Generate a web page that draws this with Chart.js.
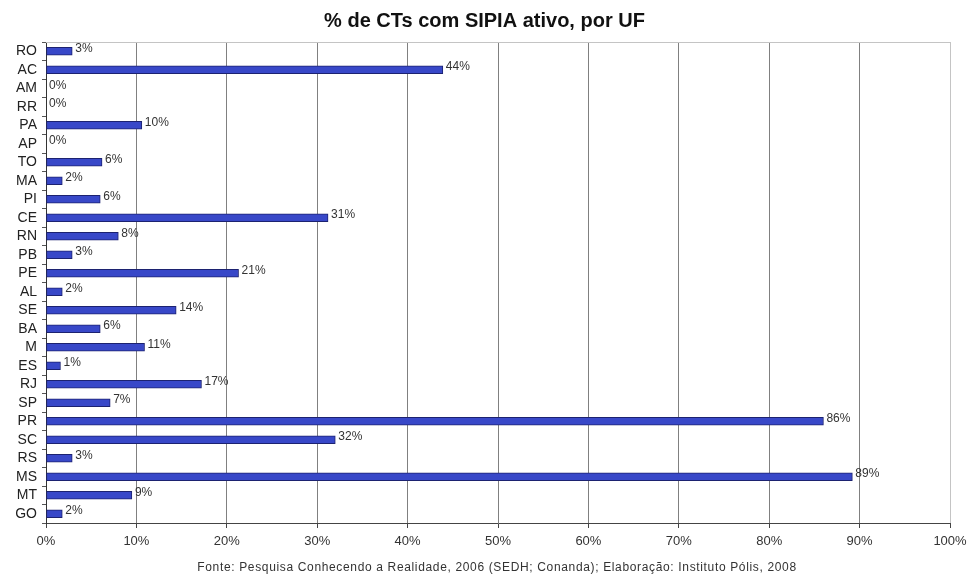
<!DOCTYPE html>
<html>
<head>
<meta charset="utf-8">
<script src="https://cdn.jsdelivr.net/npm/chart.js@4.4.0/dist/chart.umd.min.js"></script>
<style>
  html, body { margin: 0; padding: 0; background: #fff; }
  #wrap { width: 969px; height: 577px; }
</style>
</head>
<body>
<div id="wrap"><canvas id="chart"></canvas></div>
<script>
const states = ["RO", "AC", "AM", "RR", "PA", "AP", "TO", "MA", "PI", "CE", "RN", "PB", "PE",
  "AL", "SE", "BA", "M", "ES", "RJ", "SP", "PR", "SC", "RS", "MS", "MT", "GO"];
// bar lengths as drawn
const activePct = [2.9, 43.9, 0, 0, 10.6, 0, 6.2, 1.8, 6.0, 31.2, 8.0, 2.9, 21.3,
  1.8, 14.4, 6.0, 10.9, 1.6, 17.2, 7.1, 86.0, 32.0, 2.9, 89.2, 9.5, 1.8];
// labels printed next to the bars
const pctLabels = ["3%", "44%", "0%", "0%", "10%", "0%", "6%", "2%", "6%", "31%", "8%", "3%", "21%",
  "2%", "14%", "6%", "11%", "1%", "17%", "7%", "86%", "32%", "3%", "89%", "9%", "2%"];
const xTicks = [0, 10, 20, 30, 40, 50, 60, 70, 80, 90, 100];
const sourceNote = "Fonte: Pesquisa Conhecendo a Realidade, 2006 (SEDH; Conanda); Elaboração: Instituto Pólis, 2008";

const FONT = "'Liberation Sans', Arial, sans-serif";

// value labels, light top border, source note
const extras = {
  id: "extras",
  afterDatasetsDraw(chart) {
    const ctx = chart.ctx;
    const area = chart.chartArea;
    ctx.save();
    ctx.strokeStyle = "#c4c4c4";
    ctx.lineWidth = 1;
    ctx.beginPath();
    ctx.moveTo(area.left, area.top + 0.5);
    ctx.lineTo(area.right, area.top + 0.5);
    ctx.stroke();

    ctx.font = "12px " + FONT;
    ctx.fillStyle = "#333";
    ctx.textBaseline = "middle";
    ctx.textAlign = "left";
    chart.getDatasetMeta(0).data.forEach((bar, i) => {
      ctx.fillText(pctLabels[i], bar.x + 3, bar.y - 3);
    });

    ctx.font = "12px " + FONT;
    ctx.letterSpacing = "0.65px";
    ctx.textAlign = "center";
    ctx.fillText(sourceNote, 497, 568);
    ctx.restore();
  }
};

new Chart(document.getElementById("chart"), {
  type: "bar",
  data: {
    labels: states,
    datasets: [{
      data: activePct,
      backgroundColor: "#3848c8",
      borderColor: "#1c2270",
      borderWidth: 1,
      borderSkipped: false,
      barThickness: 8
    }]
  },
  options: {
    indexAxis: "y",
    responsive: true,
    maintainAspectRatio: false,
    animation: false,
    layout: { padding: { left: 0, right: 0, top: 0, bottom: 16 } },
    plugins: {
      legend: { display: false },
      tooltip: { enabled: false },
      title: {
        display: true,
        text: "% de CTs com SIPIA ativo, por UF",
        color: "#111",
        font: { family: FONT, size: 20, weight: "bold" },
        padding: { top: 9, bottom: 9 }
      }
    },
    scales: {
      x: {
        min: 0,
        max: 100,
        afterBuildTicks(axis) { axis.ticks = xTicks.map(v => ({ value: v })); },
        afterFit(axis) {
          axis.height = 38;
          axis.paddingLeft = 0;
          axis.paddingRight = 19;
        },
        ticks: {
          callback: v => v + "%",
          color: "#333",
          font: { family: FONT, size: 13 },
          padding: 6
        },
        grid: {
          color: ctx => (ctx.tick && ctx.tick.value === 100) ? "#c4c4c4" : "#808080",
          tickColor: "#444",
          tickLength: 5,
          lineWidth: 1
        },
        border: { color: "#444", width: 1 }
      },
      y: {
        afterFit(axis) { axis.width = 46; },
        ticks: {
          color: "#222",
          font: { family: FONT, size: 14 },
          padding: 5,
          autoSkip: false
        },
        grid: {
          offset: true,
          drawOnChartArea: false,
          tickLength: 4,
          tickColor: "#555"
        },
        border: { color: "#333", width: 1 }
      }
    }
  },
  plugins: [extras]
});
</script>
</body>
</html>
